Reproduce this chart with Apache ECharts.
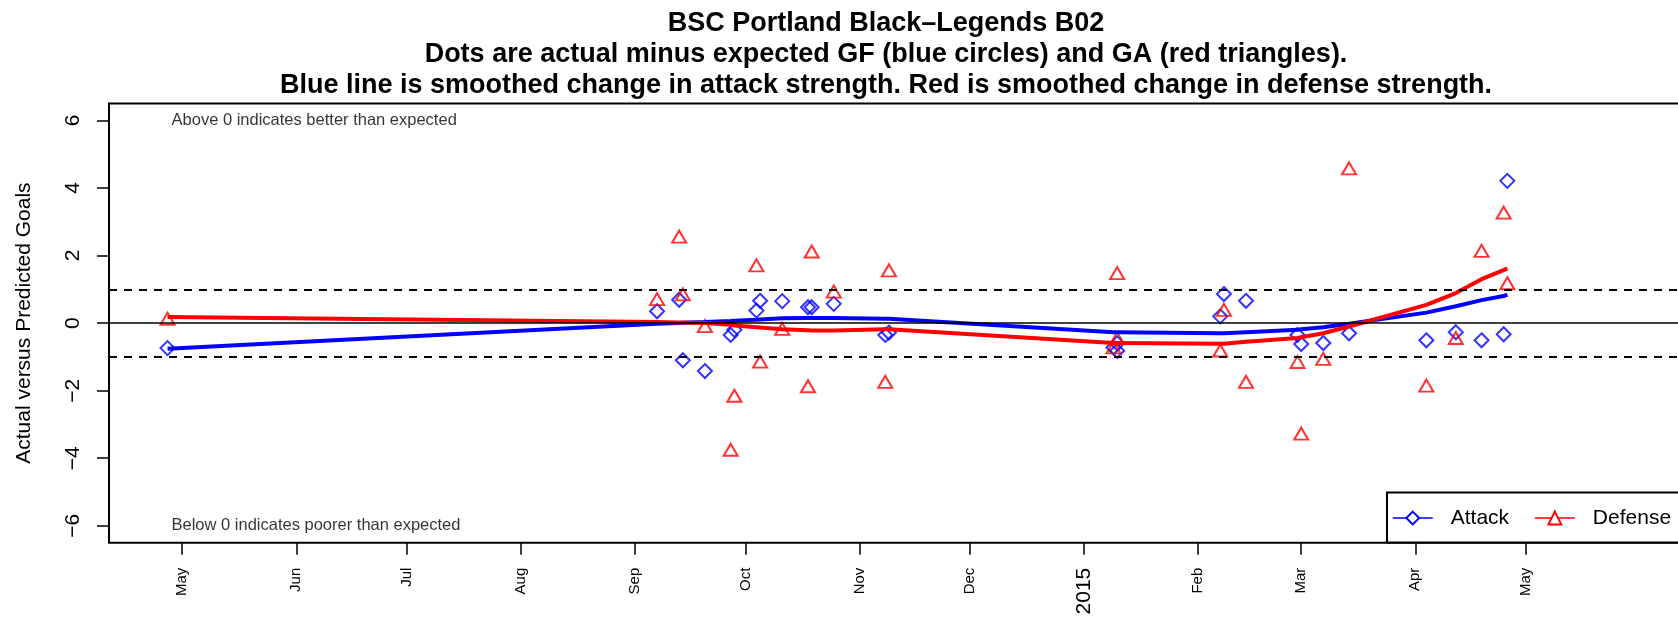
<!DOCTYPE html>
<html><head><meta charset="utf-8">
<script src="https://cdn.jsdelivr.net/npm/echarts@6/dist/echarts.min.js"></script>
<style>html,body{margin:0;padding:0;background:#fff}#c{width:1678px;height:617px}</style>
</head><body><div id="c"></div>
<script>
// ---- data ----
const gameDates = ['2014-04-27','2014-09-07','2014-09-13','2014-09-14','2014-09-20','2014-09-27','2014-09-28','2014-10-04','2014-10-05','2014-10-11','2014-10-18','2014-10-19','2014-10-25','2014-11-08','2014-11-09','2015-01-09','2015-01-10','2015-01-10','2015-02-07','2015-02-08','2015-02-14','2015-02-28','2015-03-01','2015-03-07','2015-03-14','2015-04-04','2015-04-12','2015-04-19','2015-04-25','2015-04-26'];
const attackDiff = [-0.74,0.35,0.69,-1.10,-1.42,-0.35,-0.20,0.37,0.66,0.65,0.47,0.47,0.57,-0.35,-0.28,-0.72,-0.60,-0.82,0.20,0.86,0.66,-0.35,-0.62,-0.59,-0.30,-0.51,-0.27,-0.51,-0.33,4.21];
const defenseDiff = [0.13,0.71,2.56,0.85,-0.09,-3.75,-2.15,1.71,-1.14,-0.17,-1.87,2.12,0.93,-1.74,1.56,-0.72,1.48,-0.45,-0.81,0.39,-1.74,-1.15,-3.27,-1.06,4.58,-1.85,-0.44,2.14,3.27,1.18];
const attackSmooth = [-0.76,-0.02,0.00,0.01,0.03,0.06,0.07,0.10,0.11,0.14,0.15,0.15,0.15,0.13,0.13,-0.27,-0.27,-0.27,-0.30,-0.30,-0.27,-0.20,-0.18,-0.12,-0.02,0.31,0.50,0.68,0.80,0.84];
const defenseSmooth = [0.18,0.03,0.02,0.02,0.00,-0.05,-0.07,-0.12,-0.13,-0.18,-0.21,-0.22,-0.22,-0.18,-0.18,-0.59,-0.59,-0.59,-0.61,-0.61,-0.55,-0.44,-0.42,-0.30,-0.10,0.54,0.89,1.30,1.57,1.62];
const monthTickDates = ['2014-05-01','2014-06-01','2014-07-01','2014-08-01','2014-09-01','2014-10-01','2014-11-01','2014-12-01','2015-01-01','2015-02-01','2015-03-01','2015-04-01','2015-05-01'];
const monthTickLabels = ['May','Jun','Jul','Aug','Sep','Oct','Nov','Dec','2015','Feb','Mar','Apr','May'];
const yTicks = [-6,-4,-2,0,2,4,6];
const refLines = [1, -1];
const titleLines = ['BSC Portland Black\u2013Legends B02','Dots are actual minus expected GF (blue circles) and GA (red triangles).','Blue line is smoothed change in attack strength. Red is smoothed change in defense strength.'];
const noteTop = 'Above 0 indicates better than expected';
const noteBottom = 'Below 0 indicates poorer than expected';

// ---- helpers ----
const EPOCH = Date.UTC(2014, 4, 1);
function dayNum(s){ const p = s.split('-').map(Number); return (Date.UTC(p[0], p[1]-1, p[2]) - EPOCH) / 86400000; }
const gx = gameDates.map(dayNum);
const tickDays = monthTickDates.map(dayNum);
const FONT = 'Liberation Sans, Arial, Helvetica, sans-serif';

const chart = echarts.init(document.getElementById('c'), null, {renderer: 'canvas'});
const option = {
  animation: false,
  backgroundColor: '#fff',
  title: {
    text: titleLines.join('\n'),
    left: 886, top: 8, textAlign: 'center', padding: 0,
    textStyle: {fontFamily: FONT, fontWeight: 'bold', fontSize: 27, lineHeight: 31, color: '#000'}
  },
  grid: {left: 109, width: 1589, top: 103.5, bottom: 74.3, outerBoundsMode: 'none', containLabel: false,
    show: true, borderColor: '#000', borderWidth: 2, backgroundColor: 'transparent'},
  legend: {
    data: ['Attack', 'Defense'],
    left: 1387, top: 492.5, width: 420, orient: 'horizontal',
    padding: [15, 60, 14, 5], itemWidth: 40, itemHeight: 16, itemGap: 25,
    borderColor: '#000', borderWidth: 2, backgroundColor: '#fff',
    textStyle: {fontFamily: FONT, fontSize: 21, color: '#000', padding: [0,0,0,13]},
    lineStyle: {width: 1.5},
    selectedMode: false
  },
  xAxis: {
    type: 'value', min: -19.9, max: 411.8,
    splitLine: {show: false},
    axisLine: {show: false, onZero: false},
    axisTick: {show: true, inside: false, length: 12, customValues: tickDays, lineStyle: {color: '#000', width: 1.5}},
    axisLabel: {
      show: true, rotate: 90, margin: 25, customValues: tickDays,
      fontFamily: FONT, fontSize: 15, color: '#000',
      formatter: function(v){ const i = tickDays.findIndex(d => Math.abs(d - v) < 1e-6); if (i < 0) return ''; const l = monthTickLabels[i]; return /^\d{4}$/.test(l) ? '{yr|' + l + '}' : l; },
      rich: {yr: {fontSize: 21, fontFamily: FONT, color: '#000'}}
    }
  },
  yAxis: {
    type: 'value', min: -6.5, max: 6.5,
    name: 'Actual versus Predicted Goals', nameLocation: 'middle', nameRotate: 90, nameGap: 74,
    nameTextStyle: {fontFamily: FONT, fontSize: 21, color: '#000'},
    splitLine: {show: false},
    axisLine: {show: false, onZero: false},
    axisTick: {show: true, length: 12, customValues: yTicks, lineStyle: {color: '#000', width: 1.5}},
    axisLabel: {show: true, rotate: 90, margin: 25, customValues: yTicks, fontFamily: FONT, fontSize: 21, color: '#000',
      formatter: v => String(v).replace('-', '\u2212')}
  },
  series: [
    {
      name: 'GF', type: 'scatter', z: 3,
      data: gx.map((d, i) => [d, attackDiff[i]]),
      symbol: 'diamond', symbolSize: 14,
      itemStyle: {color: 'rgba(0,0,0,0)', borderColor: '#0000ff', borderWidth: 2}
    },
    {
      name: 'GA', type: 'scatter', z: 3,
      data: gx.map((d, i) => [d, defenseDiff[i]]),
      symbol: 'triangle', symbolSize: [14, 12],
      itemStyle: {color: 'rgba(0,0,0,0)', borderColor: '#ff0000', borderWidth: 2}
    },
    {
      name: 'Attack', type: 'line', z: 4,
      data: gx.map((d, i) => [d, attackSmooth[i]]),
      symbol: 'emptyDiamond', showSymbol: false, smooth: false,
      itemStyle: {color: '#0000ff'},
      lineStyle: {color: '#0000ff', width: 4}
    },
    {
      name: 'Defense', type: 'line', z: 4,
      data: gx.map((d, i) => [d, defenseSmooth[i]]),
      symbol: 'emptyTriangle', showSymbol: false, smooth: false,
      itemStyle: {color: '#ff0000'},
      lineStyle: {color: '#ff0000', width: 4}
    },
    {
      name: 'notes', type: 'scatter', z: 2, silent: true,
      symbolSize: 0,
      data: [
        {value: [gx[0], yTicks[yTicks.length-1]], label: {formatter: noteTop}},
        {value: [gx[0], yTicks[0]], label: {formatter: noteBottom}}
      ],
      label: {show: true, position: 'right', distance: 4, fontFamily: FONT, fontSize: 16.5, color: '#000'}
    },
    {
      name: 'ref', type: 'line', z: 6, data: [], silent: true,
      markLine: {
        silent: true, symbol: 'none', label: {show: false}, animation: false,
        data: [
          {yAxis: 0, lineStyle: {color: '#000', width: 1.5, type: 'solid'}},
          ...refLines.map(v => ({yAxis: v, lineStyle: {color: '#000', width: 2, type: [8, 7]}}))
        ]
      }
    }
  ]
};
chart.setOption(option);
</script>
</body></html>
